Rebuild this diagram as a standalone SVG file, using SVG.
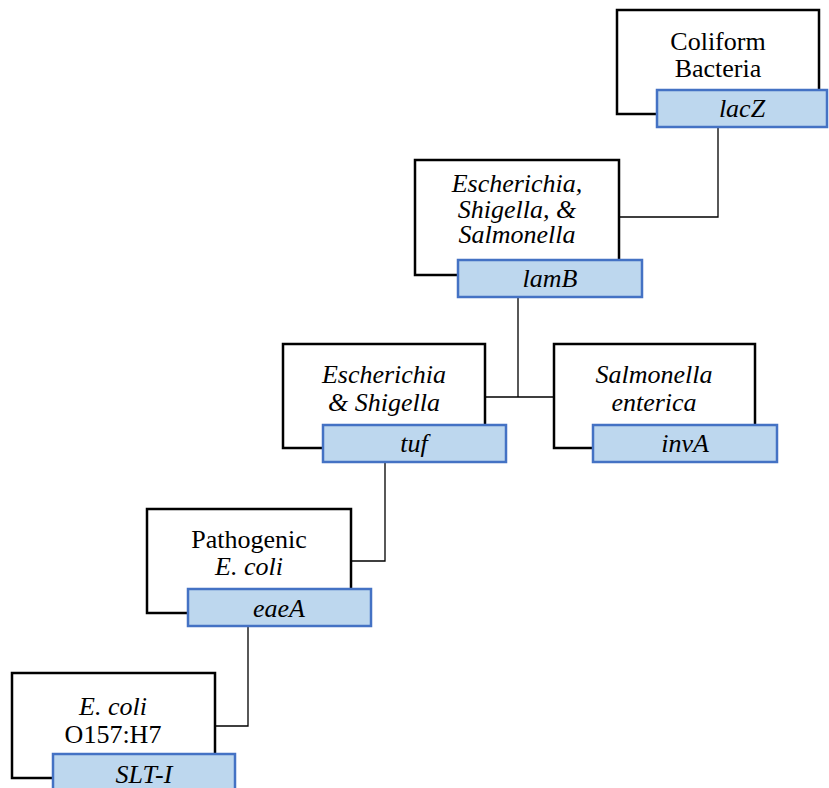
<svg xmlns="http://www.w3.org/2000/svg" width="829" height="788" viewBox="0 0 829 788">
<style>
.box{fill:#fff;stroke:#000;stroke-width:2.5}
.gene{fill:#BDD7EE;stroke:#4472C4;stroke-width:2.5}
text{font-family:"Liberation Serif","Times New Roman",serif;font-size:26px;fill:#000;text-anchor:middle}
.i{font-style:italic}
.conn{fill:none;stroke:#000;stroke-width:1.3}
</style>
<rect width="829" height="788" fill="#fff"/>
<g id="connectors">
<path class="conn" d="M718,127 V217 H619"/>
<path class="conn" d="M518,297 V397 M485,397 H554"/>
<path class="conn" d="M385,462 V561 H351"/>
<path class="conn" d="M248,626 V726 H215"/>
</g>
<g id="coliform">
<rect class="box" x="617" y="10" width="202" height="104"/>
<text x="718" y="50">Coliform</text>
<text x="718" y="77">Bacteria</text>
<rect class="gene" x="657" y="90" width="170" height="37"/>
<text class="i" x="742" y="117">lacZ</text>
</g>
<g id="esh">
<rect class="box" x="415" y="160" width="204" height="115"/>
<text class="i" x="517" y="192">Escherichia,</text>
<text class="i" x="517" y="218">Shigella, &amp;</text>
<text class="i" x="517" y="243">Salmonella</text>
<rect class="gene" x="458" y="260" width="184" height="37"/>
<text class="i" x="550" y="287">lamB</text>
</g>
<g id="es">
<rect class="box" x="283" y="344" width="202" height="104"/>
<text class="i" x="384" y="383">Escherichia</text>
<text class="i" x="384" y="411">&amp; Shigella</text>
<rect class="gene" x="323" y="425" width="183" height="37"/>
<text class="i" x="414" y="452">tuf</text>
</g>
<g id="salmonella">
<rect class="box" x="554" y="344" width="201" height="104"/>
<text class="i" x="654" y="383">Salmonella</text>
<text class="i" x="654" y="411">enterica</text>
<rect class="gene" x="593" y="425" width="184" height="37"/>
<text class="i" x="685" y="452">invA</text>
</g>
<g id="pathogenic">
<rect class="box" x="147" y="509" width="204" height="104"/>
<text x="249" y="548">Pathogenic</text>
<text class="i" x="249" y="575">E. coli</text>
<rect class="gene" x="188" y="589" width="183" height="37"/>
<text class="i" x="279" y="617">eaeA</text>
</g>
<g id="o157">
<rect class="box" x="12" y="673" width="203" height="105"/>
<text class="i" x="113" y="715">E. coli</text>
<text x="113" y="743">O157:H7</text>
<rect class="gene" x="53" y="754" width="182" height="40"/>
<text class="i" x="144" y="783">SLT-I</text>
</g>
</svg>
